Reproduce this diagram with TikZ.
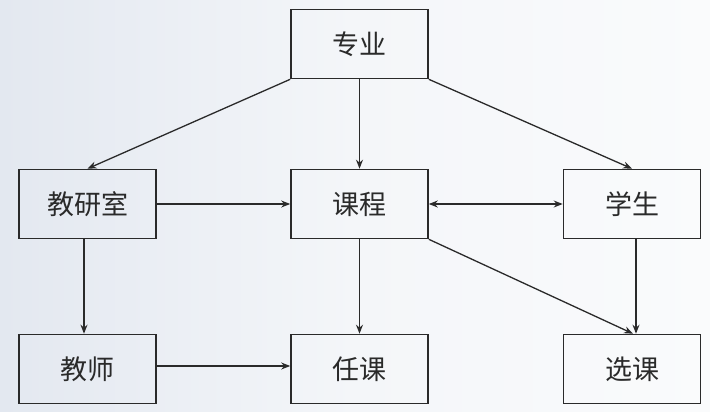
\documentclass[tikz,border=0pt]{standalone}
\usepackage{fontspec}
\newfontfamily\cjk{Noto Sans CJK SC}
\usetikzlibrary{arrows.meta}
\definecolor{bgleft}{HTML}{E3E8F0}
\definecolor{bgmid}{HTML}{F4F6F9}
\definecolor{bgright}{HTML}{FAFBFC}
\definecolor{ink}{HTML}{2A2A2A}
\begin{document}
\begin{tikzpicture}[x=1pt,y=-1pt,
  ent/.style={draw=ink,line width=1.6pt,minimum width=137pt,minimum height=69pt,inner sep=0pt,
    font=\cjk\fontsize{27}{27}\selectfont,text=ink},
  conn/.style={draw=ink,line width=1.3pt,-{Stealth[length=9pt,width=7pt]}},
  conn2/.style={draw=ink,line width=1.3pt,{Stealth[length=9pt,width=7pt]}-{Stealth[length=9pt,width=7pt]}}]
\shade[left color=bgleft,right color=bgright,middle color=bgmid] (0,0) rectangle (710,412);
\useasboundingbox (0,0) rectangle (710,412);
\node[ent] (zy) at (359.5,44) {专业};
\node[ent] (jys) at (87.5,204) {教研室};
\node[ent] (kc) at (359.5,204) {课程};
\node[ent] (xs) at (632,204) {学生};
\node[ent] (js) at (87.5,369) {教师};
\node[ent] (rk) at (359.5,369) {任课};
\node[ent] (xk) at (632,369) {选课};
\draw[conn] (zy.south west) -- (jys.north);
\draw[conn] (zy.south) -- (kc.north);
\draw[conn] (zy.south east) -- (xs.north);
\draw[conn] (jys.east) -- (kc.west);
\draw[conn2] (kc.east) -- (xs.west);
\draw[conn] (jys.south -| 84,0) -- (js.north -| 84,0);
\draw[conn] (kc.south) -- (rk.north);
\draw[conn] ([yshift=3pt]js.east) -- ([yshift=3pt]rk.west);
\draw[conn] (xs.south -| 636,0) -- (xk.north -| 636,0);
\draw[conn] (kc.south east) -- ([xshift=1pt]xk.north);
\end{tikzpicture}
\end{document}
